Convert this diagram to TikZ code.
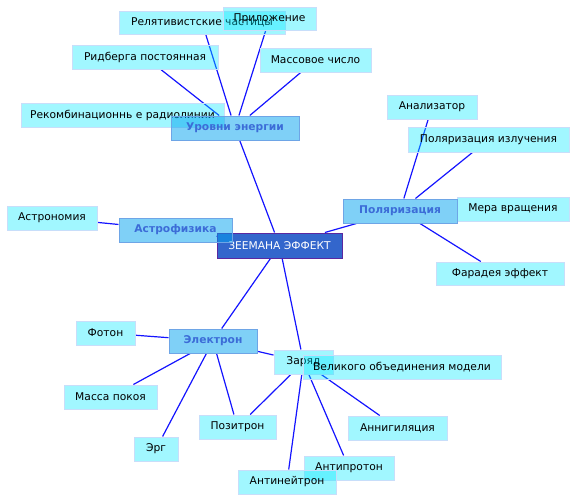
\documentclass[tikz,border=0pt]{standalone}
\usepackage{fontspec}
\setmainfont{DejaVu Sans}
\usetikzlibrary{backgrounds}
\definecolor{leaffill}{RGB}{0,232,255}
\definecolor{leafborder}{RGB}{200,222,250}
\definecolor{catfill}{RGB}{0,161,240}
\definecolor{catborder}{RGB}{110,165,230}
\definecolor{cattext}{RGB}{60,108,215}
\definecolor{rootfill}{RGB}{51,102,204}
\definecolor{rootborder}{RGB}{90,40,160}
\definecolor{linkcol}{RGB}{20,20,255}
\tikzset{
  box/.style={rectangle, inner sep=0pt, font=\fontsize{10.7}{12}\selectfont, line width=1pt},
  leaf/.style={box, fill=leaffill, fill opacity=0.37, text opacity=1, draw=leafborder, draw opacity=1, text=black},
  cat/.style={box, fill=catfill, fill opacity=0.5, text opacity=1, draw=catborder, draw opacity=1, text=cattext, font=\fontsize{10.7}{12}\selectfont\bfseries},
  root/.style={box, fill=rootfill, draw=rootborder, text=white},
  link/.style={draw=linkcol, line width=1.2pt},
  sz/.style 2 args={minimum width=#1pt, minimum height=#2pt}
}
\begin{document}
\begin{tikzpicture}[x=1pt,y=-1pt]
\useasboundingbox (0,0) rectangle (576,501);
% root
\node[root, sz={125}{25}] (zee) at (279.5,245.5) {ЗЕЕМАНА ЭФФЕКТ};
% leaves
\node[leaf, sz={166}{23}] (rel) at (202,22.5) {Релятивистские частицы};
\node[leaf, sz={93}{23}] (pril) at (269.5,18.5) {Приложение};
\node[leaf, sz={146}{24}] (rid) at (145,57) {Ридберга постоянная};
\node[leaf, sz={111}{24}] (mass) at (315.5,60) {Массовое число};
\node[leaf, sz={203}{24}] (rek) at (122.5,115) {Рекомбинационнь е радиолинии};
\node[leaf, sz={90}{24}] (anal) at (432,107) {Анализатор};
\node[leaf, sz={161}{25}] (polizl) at (488.5,139.5) {Поляризация излучения};
\node[leaf, sz={112}{24}] (mera) at (513,209) {Мера вращения};
\node[leaf, sz={128}{23}] (far) at (500,273.5) {Фарадея эффект};
\node[leaf, sz={90}{24}] (astron) at (52,218) {Астрономия};
\node[leaf, sz={59}{24}] (foton) at (105.5,333) {Фотон};
\node[leaf, sz={93}{24}] (massa) at (110.5,397) {Масса покоя};
\node[leaf, sz={44}{24}] (erg) at (156,449) {Эрг};
\node[leaf, sz={77}{24}] (pos) at (237.5,427) {Позитрон};
\node[leaf, sz={59}{24}] (zar) at (303.5,362) {Заряд};
\node[leaf, sz={198}{24}] (vel) at (402,367) {Великого объединения модели};
\node[leaf, sz={99}{24}] (ann) at (397.5,428) {Аннигиляция};
\node[leaf, sz={90}{24}] (antip) at (349,468) {Антипротон};
\node[leaf, sz={98}{24}] (antin) at (287,482) {Антинейтрон};
% categories
\node[cat, sz={128}{24}] (urov) at (235,128) {Уровни энергии};
\node[cat, sz={114}{24}] (pol) at (400,211) {Поляризация};
\node[cat, sz={113}{24}] (astrof) at (175.5,230) {Астрофизика};
\node[cat, sz={88}{24}] (el) at (213,341) {Электрон};
% links
\begin{scope}[on background layer]
\draw[link] (zee) -- (urov);
\draw[link] (zee) -- (pol);
\draw[link] (zee) -- (astrof);
\draw[link] (zee) -- (el);
\draw[link] (zee) -- (zar);
\draw[link] (urov) -- (rel);
\draw[link] (urov) -- (pril);
\draw[link] (urov) -- (rid);
\draw[link] (urov) -- (mass);
\draw[link] (pol) -- (anal);
\draw[link] (pol) -- (polizl);
\draw[link] (pol) -- (far);
\draw[link] (astrof) -- (astron);
\draw[link] (el) -- (foton);
\draw[link] (el) -- (massa);
\draw[link] (el) -- (erg);
\draw[link] (el) -- (pos);
\draw[link] (el) -- (zar);
\draw[link] (zar) -- (pos);
\draw[link] (zar) -- (antin);
\draw[link] (zar) -- (antip);
\draw[link] (zar) -- (ann);
\end{scope}
\end{tikzpicture}
\end{document}
